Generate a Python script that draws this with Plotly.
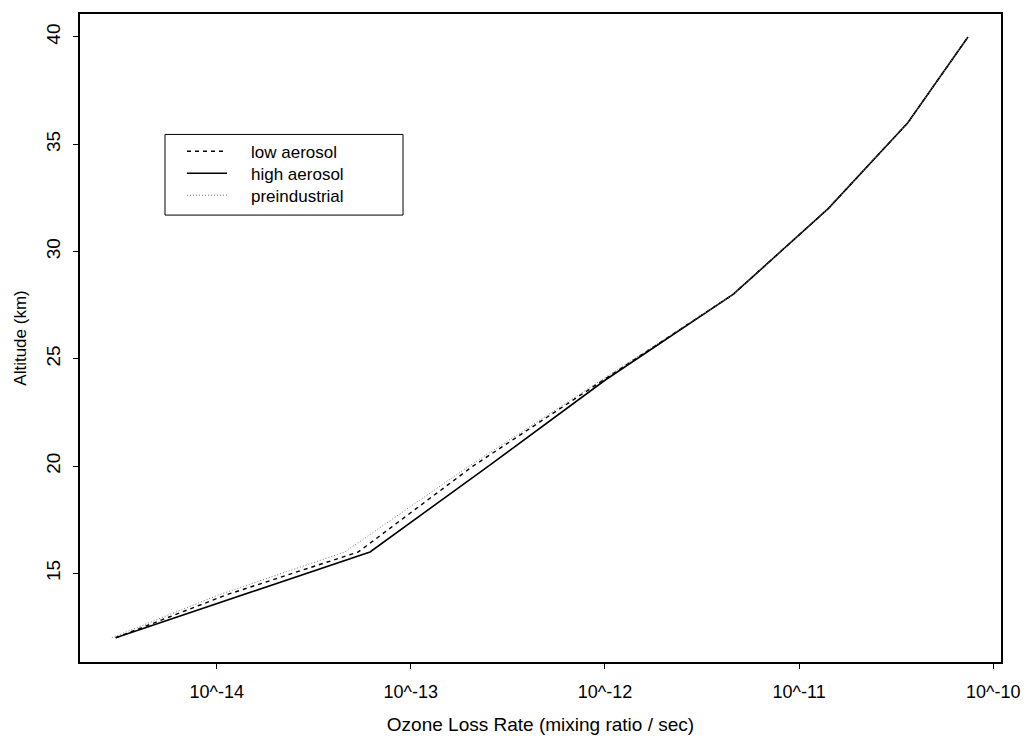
import plotly.graph_objects as go

altitude_km = [12, 14, 16, 20, 24, 28, 32, 36, 40]
low_aerosol_log = [-14.52, -13.95, -13.27, -12.68, -12.01, -11.34, -10.85, -10.44, -10.13]
high_aerosol_log = [-14.52, -13.86, -13.21, -12.60, -12.00, -11.34, -10.85, -10.44, -10.13]
preindustrial_log = [-14.54, -13.99, -13.34, -12.70, -12.02, -11.34, -10.85, -10.44, -10.13]

series_names = ["low aerosol", "high aerosol", "preindustrial"]
tick_exponents = [-14, -13, -12, -11, -10]
tick_labels = ["10^-14", "10^-13", "10^-12", "10^-11", "10^-10"]
y_ticks = [15, 20, 25, 30, 35, 40]

def to_rate(logs):
    return [10 ** v for v in logs]

FONT = "Liberation Sans, Arial, sans-serif"
LEG_FONT = 17
LINE_H = LEG_FONT * 1.3
styles = [
    dict(color="black", width=1.4, dash="4px,4px"),
    dict(color="black", width=1.6),
    dict(color="#777777", width=1, dash="1px,2px"),
]
series = [low_aerosol_log, high_aerosol_log, preindustrial_log]

fig = go.Figure()
for name, logs, st in zip(series_names, series, styles):
    fig.add_trace(go.Scatter(x=to_rate(logs), y=altitude_km, mode="lines",
                             name=name, line=st, showlegend=False))

# plot area in page pixels: left 80, top 12, width 921, height 651
def px(xp):
    return (xp - 80) / 921
def py(yp):
    return 1 - (yp - 12) / 651

center_y = 172
shapes = [dict(type="rect", xref="paper", yref="paper",
               x0=px(165), x1=px(403), y0=py(center_y + 42), y1=py(center_y - 39),
               line=dict(color="black", width=1), fillcolor="white", layer="above")]
for i, st in enumerate(styles):
    yy = py(center_y + (i - 1) * LINE_H)
    shapes.append(dict(type="line", xref="paper", yref="paper",
                       x0=px(187), x1=px(227), y0=yy, y1=yy,
                       line=dict(color=st["color"], width=st["width"],
                                 dash=st.get("dash", "solid")), layer="above"))
annotations = [dict(xref="paper", yref="paper", x=px(249), y=py(center_y + 1),
                    text="<br>".join(series_names), showarrow=False,
                    xanchor="left", yanchor="middle", align="left",
                    font=dict(size=LEG_FONT, family=FONT))]

fig.update_layout(
    width=1021, height=728,
    margin=dict(l=72, r=28, t=4, b=73),
    paper_bgcolor="white", plot_bgcolor="white",
    font=dict(family=FONT, color="black", size=18),
    showlegend=False,
    shapes=shapes, annotations=annotations,
    xaxis=dict(type="log", range=[-14.704, -9.96],
               tickvals=[10 ** e for e in tick_exponents], ticktext=tick_labels,
               ticks="outside", ticklen=5, tickcolor="black", tickwidth=1.2,
               showline=True, linecolor="black", linewidth=1.5, mirror=True,
               showgrid=False, zeroline=False, ticklabelstandoff=8,
               tickfont=dict(size=18, family=FONT),
               title=dict(text="Ozone Loss Rate (mixing ratio / sec)",
                          font=dict(size=19, family=FONT), standoff=16)),
    yaxis=dict(range=[10.87, 41.07], tickvals=y_ticks,
               ticks="outside", ticklen=5, tickcolor="black", tickwidth=1.2,
               tickangle=-90, ticklabelstandoff=6,
               showline=True, linecolor="black", linewidth=1.5, mirror=True,
               showgrid=False, zeroline=False,
               tickfont=dict(size=19, family=FONT),
               title=dict(text="Altitude (km)", font=dict(size=17, family=FONT),
                          standoff=12)),
)

fig.write_html("out.html")
